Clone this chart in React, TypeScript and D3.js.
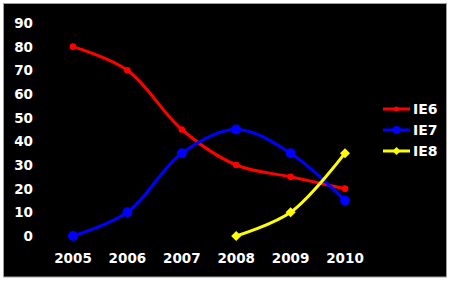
import React from "react";
import * as d3 from "d3";

const years = [2005, 2006, 2007, 2008, 2009, 2010];
const yTicks = [0, 10, 20, 30, 40, 50, 60, 70, 80, 90];
const ie6 = [80, 70, 45, 30, 25, 20];
const ie7 = [0, 10, 35, 45, 35, 15];
const ie8: (number | null)[] = [null, null, null, 0, 10, 35];

const seriesNames = ["IE6", "IE7", "IE8"];
const seriesColors = ["#ff0000", "#0000ff", "#ffff00"];

export default function App() {
  const W = 450, H = 282;
  const x = d3.scaleLinear().domain([2005, 2010]).range([73, 345]);
  const y = d3.scaleLinear().domain([0, 90]).range([236, 23]);
  const line = d3
    .line<[number, number]>()
    .x((d) => x(d[0]))
    .y((d) => y(d[1]))
    .curve(d3.curveCatmullRom.alpha(0.5));

  const all = [ie6, ie7, ie8];
  const pts = all.map((s) =>
    years.map((yr, i) => [yr, s[i]] as [number, number | null]).filter((d) => d[1] != null) as [number, number][]
  );
  const font = "'DejaVu Sans', Verdana, sans-serif";

  const marker = (k: number, cx: number, cy: number, key: string) => {
    if (k === 0) return <circle key={key} cx={cx} cy={cy} r={3.3} fill={seriesColors[0]} />;
    if (k === 1) return <circle key={key} cx={cx} cy={cy} r={5} fill={seriesColors[1]} />;
    const s = 5;
    return (
      <path
        key={key}
        d={`M${cx},${cy - s}L${cx + s},${cy}L${cx},${cy + s}L${cx - s},${cy}Z`}
        fill={seriesColors[2]}
      />
    );
  };

  return (
    <svg width={W} height={H} style={{ position: "absolute", left: 0, top: 0, background: "#fff" }}>
      <rect x={3.5} y={3.5} width={443} height={273.5} fill="#000" stroke="#a0a0a0" strokeWidth={1} />
      {yTicks.map((t) => (
        <text
          key={t}
          x={33}
          y={y(t)}
          dy="0.36em"
          textAnchor="end"
          fill="#fff"
          fontFamily={font}
          fontWeight="bold"
          fontSize={13.5}
        >
          {t}
        </text>
      ))}
      {years.map((yr) => (
        <text
          key={yr}
          x={x(yr)}
          y={258.5}
          dy="0.36em"
          textAnchor="middle"
          fill="#fff"
          fontFamily={font}
          fontWeight="bold"
          fontSize={13.5}
        >
          {yr}
        </text>
      ))}
      {pts.map((p, k) => (
        <g key={k}>
          <path d={line(p) || ""} fill="none" stroke={seriesColors[k]} strokeWidth={3} />
          {p.map((d, i) => marker(k, x(d[0]), y(d[1]), `${k}-${i}`))}
        </g>
      ))}
      {seriesNames.map((n, k) => {
        const ly = 109 + k * 21;
        return (
          <g key={n}>
            <line x1={383} x2={410} y1={ly} y2={ly} stroke={seriesColors[k]} strokeWidth={3} />
            {k === 0 ? (
              <circle cx={396.5} cy={ly} r={2.5} fill={seriesColors[0]} />
            ) : k === 1 ? (
              <circle cx={396.5} cy={ly} r={4} fill={seriesColors[1]} />
            ) : (
              <path d={`M396.5,${ly - 4}L400.5,${ly}L396.5,${ly + 4}L392.5,${ly}Z`} fill={seriesColors[2]} />
            )}
            <text x={413} y={ly} dy="0.36em" fill="#fff" fontFamily={font} fontWeight="bold" fontSize={14}>
              {n}
            </text>
          </g>
        );
      })}
    </svg>
  );
}
